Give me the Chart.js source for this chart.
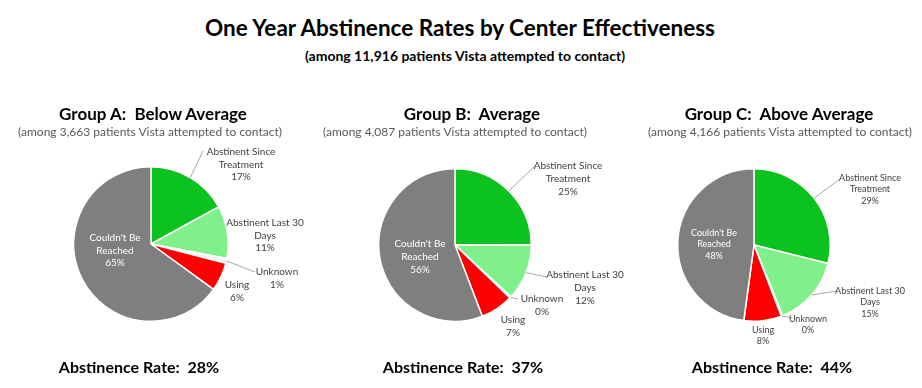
<!DOCTYPE html>
<html>
<head>
<meta charset="utf-8">
<script src="https://cdn.jsdelivr.net/npm/chart.js@4"></script>
<style>
  body { margin: 0; background: #fff; }
  #wrap { position: relative; width: 922px; height: 388px; overflow: hidden; font-family: Lato, "Open Sans", sans-serif; }
  #wrap canvas { position: absolute; left: 0; top: 0; }
  .txt { position: absolute; white-space: pre; transform: translate(-50%, -50%); }
  .main { font-weight: bold; font-size: 22.5px; color: #000; }
  .sub { font-weight: bold; font-size: 14px; color: #000; }
  .gtitle { font-weight: bold; font-size: 17px; color: #000; }
  .gsub { font-size: 12px; color: #595959; }
  .rate { font-weight: bold; font-size: 16px; color: #000; }
</style>
</head>
<body>
<div id="wrap">
  <div class="txt main" style="left:460px; top:27px;">One Year Abstinence Rates by Center Effectiveness</div>
  <div class="txt sub" style="left:465px; top:55px;">(among 11,916 patients Vista attempted to contact)</div>
  <canvas id="pieA" width="922" height="388"></canvas>
  <canvas id="pieB" width="922" height="388"></canvas>
  <canvas id="pieC" width="922" height="388"></canvas>
</div>
<script>
// ---------- data ----------
const categories = ["Abstinent Since Treatment", "Abstinent Last 30 Days", "Unknown", "Using", "Couldn't Be Reached"];
const labelLines = [["Abstinent Since", "Treatment"], ["Abstinent Last 30", "Days"], ["Unknown"], ["Using"], ["Couldn't Be", "Reached"]];
const groupNames = ["Group A:  Below Average", "Group B:  Average", "Group C:  Above Average"];
const patientCounts = ["3,663", "4,087", "4,166"];
const groupA = [17, 11, 1, 6, 65];
const groupB = [25, 12, 0.3, 7, 56];
const groupC = [29, 15, 0.3, 8, 48];
const abstinenceRates = [28, 37, 44];

const colors = ["#0cc21e", "#80f08a", "#f2f2f2", "#ff0000", "#7f7f7f"];

// ---------- layout (pie centre, radius, label offsets) ----------
const pies = [
    { id: "pieA", data: groupA, cx: 151, cy: 244, r: 78, font: 10, lh: 12.5, titleX: 153, subX: 150, rateX: 139,
      labels: [
          { dx: 90, dy: -92, lead: [52, -93] },
          { dx: 114, dy: -21 },
          { dx: 126, dy: 28, lead: [104, 28] },
          { dx: 86, dy: 41 },
          { dx: -36, dy: -6, inside: true },
      ] },
    { id: "pieB", data: groupB, cx: 455, cy: 245, r: 77, font: 10, lh: 13, titleX: 472, subX: 455, rateX: 463,
      labels: [
          { dx: 113, dy: -79, lead: [80, -79] },
          { dx: 130, dy: 30, lead: [92, 32] },
          { dx: 87, dy: 54, lead: [63, 54] },
          { dx: 58, dy: 75 },
          { dx: -35, dy: -1, inside: true },
      ] },
    { id: "pieC", data: groupC, cx: 754, cy: 245, r: 77, font: 9, lh: 11.5, titleX: 779, subX: 780, rateX: 772,
      labels: [
          { dx: 116, dy: -67, lead: [86, -66] },
          { dx: 116, dy: 46, lead: [83, 46] },
          { dx: 54, dy: 74, lead: [38, 73] },
          { dx: 9, dy: 85 },
          { dx: -40, dy: -12, inside: true },
      ] },
];

// labels + leader lines, drawn from the arc geometry
const sliceLabels = {
    id: "sliceLabels",
    afterDatasetsDraw(chart, args, opts) {
        const ctx = chart.ctx;
        const arcs = chart.getDatasetMeta(0).data;
        const values = chart.data.datasets[0].data;
        ctx.save();
        arcs.forEach((arc, i) => {
            const spec = opts.labels[i];
            const cx = arc.x, cy = arc.y;
            if (spec.lead) {
                const mid = (arc.startAngle + arc.endAngle) / 2;
                ctx.beginPath();
                ctx.strokeStyle = "#a6a6a6";
                ctx.lineWidth = 1;
                ctx.moveTo(cx + Math.cos(mid) * arc.outerRadius, cy + Math.sin(mid) * arc.outerRadius);
                ctx.lineTo(cx + spec.lead[0], cy + spec.lead[1]);
                ctx.stroke();
            }
            const lines = labelLines[i].concat([Math.round(values[i]) + "%"]);
            ctx.fillStyle = spec.inside ? "#ffffff" : "#404040";
            ctx.font = opts.font + "px Lato, 'Open Sans', sans-serif";
            ctx.textAlign = "center";
            ctx.textBaseline = "middle";
            lines.forEach((t, k) => ctx.fillText(t, cx + spec.dx, cy + spec.dy + k * opts.lh));
        });
        ctx.restore();
    },
};

const wrap = document.getElementById("wrap");

pies.forEach((p, g) => {
    new Chart(document.getElementById(p.id), {
        type: "pie",
        data: {
            labels: categories,
            datasets: [
                {
                    data: p.data,
                    backgroundColor: colors,
                    borderColor: "#ffffff",
                    borderWidth: 1.5,
                },
            ],
        },
        options: {
            responsive: false,
            animation: false,
            layout: {
                padding: {
                    left: p.cx - p.r,
                    right: 922 - (p.cx + p.r),
                    top: p.cy - p.r,
                    bottom: 388 - (p.cy + p.r),
                },
            },
            plugins: {
                legend: { display: false },
                tooltip: { enabled: false },
                sliceLabels: { labels: p.labels, font: p.font, lh: p.lh },
            },
        },
        plugins: [sliceLabels],
    });

    // group headings and rate text
    const t = document.createElement("div");
    t.className = "txt gtitle";
    t.style.left = p.titleX + "px";
    t.style.top = "113px";
    t.textContent = groupNames[g];
    wrap.appendChild(t);

    const s = document.createElement("div");
    s.className = "txt gsub";
    s.style.left = p.subX + "px";
    s.style.top = "131px";
    s.textContent = "(among " + patientCounts[g] + " patients Vista attempted to contact)";
    wrap.appendChild(s);

    const r = document.createElement("div");
    r.className = "txt rate";
    r.style.left = p.rateX + "px";
    r.style.top = "366px";
    r.textContent = "Abstinence Rate:  " + abstinenceRates[g] + "%";
    wrap.appendChild(r);
});
</script>
</body>
</html>
